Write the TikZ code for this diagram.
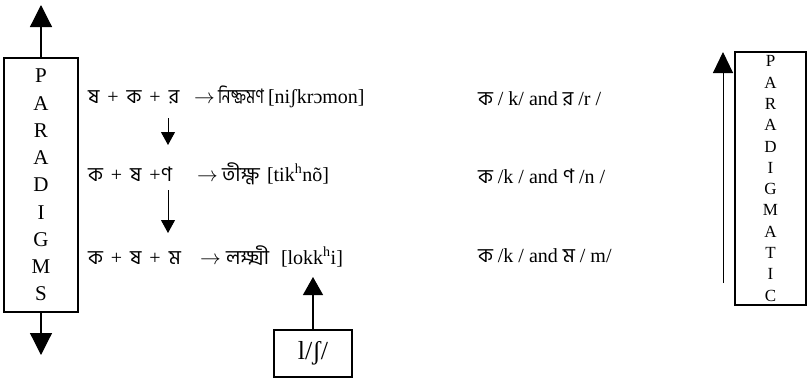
\documentclass[tikz,border=0pt]{standalone}
\usepackage{fontspec}
\setmainfont{Liberation Serif}
\newfontfamily\bn[Script=Bengali]{Hind Siliguri}
\usetikzlibrary{arrows.meta}
\newcommand{\pl}{\hspace{8pt}+\hspace{8pt}}
\begin{document}
\begin{tikzpicture}[x=1pt,y=-1pt,
  every node/.style={inner sep=0pt, outer sep=0pt},
  txt/.style={anchor=base west, font=\fontsize{20}{24}\selectfont},
  bigtip/.style={-{Triangle[length=22pt,width=22pt]}, line width=1.2pt},
  midtip/.style={-{Triangle[length=18pt,width=20pt]}, line width=1.2pt},
  smalltip/.style={-{Triangle[length=13pt,width=14pt]}, line width=1pt},
  vbox/.style={draw, line width=1.2pt, align=center}]
\useasboundingbox (0,0) rectangle (807,378);

% left box
\node[vbox, minimum width=74pt, minimum height=254pt,
      font=\fontsize{21}{27.25}\selectfont] (lbox) at (41,185)
  {P\\A\\R\\A\\D\\I\\G\\M\\S};
\coordinate (ltop) at (41,5);
\coordinate (lbot) at (41,355);
\draw[bigtip] (lbox.north) -- (ltop);
\draw[bigtip] (lbox.south) -- (lbot);

% row 1
\node[txt] (f1) at (88,103) {{\bn ষ}\pl{\bn ক}\pl{\bn র}};
\node[txt] (ar1) at (194,103) {$\rightarrow$};
\node[txt] (w1) at (218,103) {\scalebox{0.76}[1]{\bn নিষ্ক্রমণ}};
\node[txt] (p1) at (268,103) {[niʃkrɔmon]};
% row 2
\node[txt] (f2) at (88,181) {{\bn ক}\pl{\bn ষ}\hspace{8pt}+{\bn ণ}};
\node[txt] (ar2) at (197,181) {$\rightarrow$};
\node[txt] (w2) at (222,181) {\bn তীক্ষ্ণ};
\node[txt] (p2) at (267,181) {[tik\textsuperscript{h}nõ]};
% row 3
\node[txt] (f3) at (88,264) {{\bn ক}\pl{\bn ষ}\pl{\bn ম}};
\node[txt] (ar3) at (200,264) {$\rightarrow$};
\node[txt] (w3) at (226,264) {\bn লক্ষ্মী};
\node[txt] (p3) at (281,264) {[lokk\textsuperscript{h}i]};

% column 3
\node[txt] (c1) at (478,105) {{\bn ক} / k/ and {\bn র} /r /};
\node[txt] (c2) at (478,183) {{\bn ক} /k / and {\bn ণ} /n /};
\node[txt] (c3) at (478,262) {{\bn ক} /k / and {\bn ম} / m/};

% small arrows between rows
\coordinate (a1s) at (168,118);
\coordinate (a1e) at (168,145);
\coordinate (a2s) at (168,190);
\coordinate (a2e) at (168,233);
\draw[smalltip] (a1s) -- (a1e);
\draw[smalltip] (a2s) -- (a2e);

% l/ʃ/ box
\node[vbox, minimum width=78pt, minimum height=47pt,
      font=\fontsize{26}{30}\selectfont] (lsh) at (313,353.5) {l/ʃ/};
\coordinate (lshtip) at (313,277);
\draw[midtip] (lsh.north) -- (lshtip);

% right box
\node[vbox, minimum width=71pt, minimum height=253pt,
      font=\fontsize{17}{21.3}\selectfont] (rbox) at (770.5,178.5)
  {P\\A\\R\\A\\D\\I\\G\\M\\A\\T\\I\\C};
\coordinate (rbs) at (723,283);
\coordinate (rbe) at (723,52);
\draw[-{Triangle[length=21pt,width=20pt]}, line width=1pt] (rbs) -- (rbe);
\end{tikzpicture}
\end{document}
